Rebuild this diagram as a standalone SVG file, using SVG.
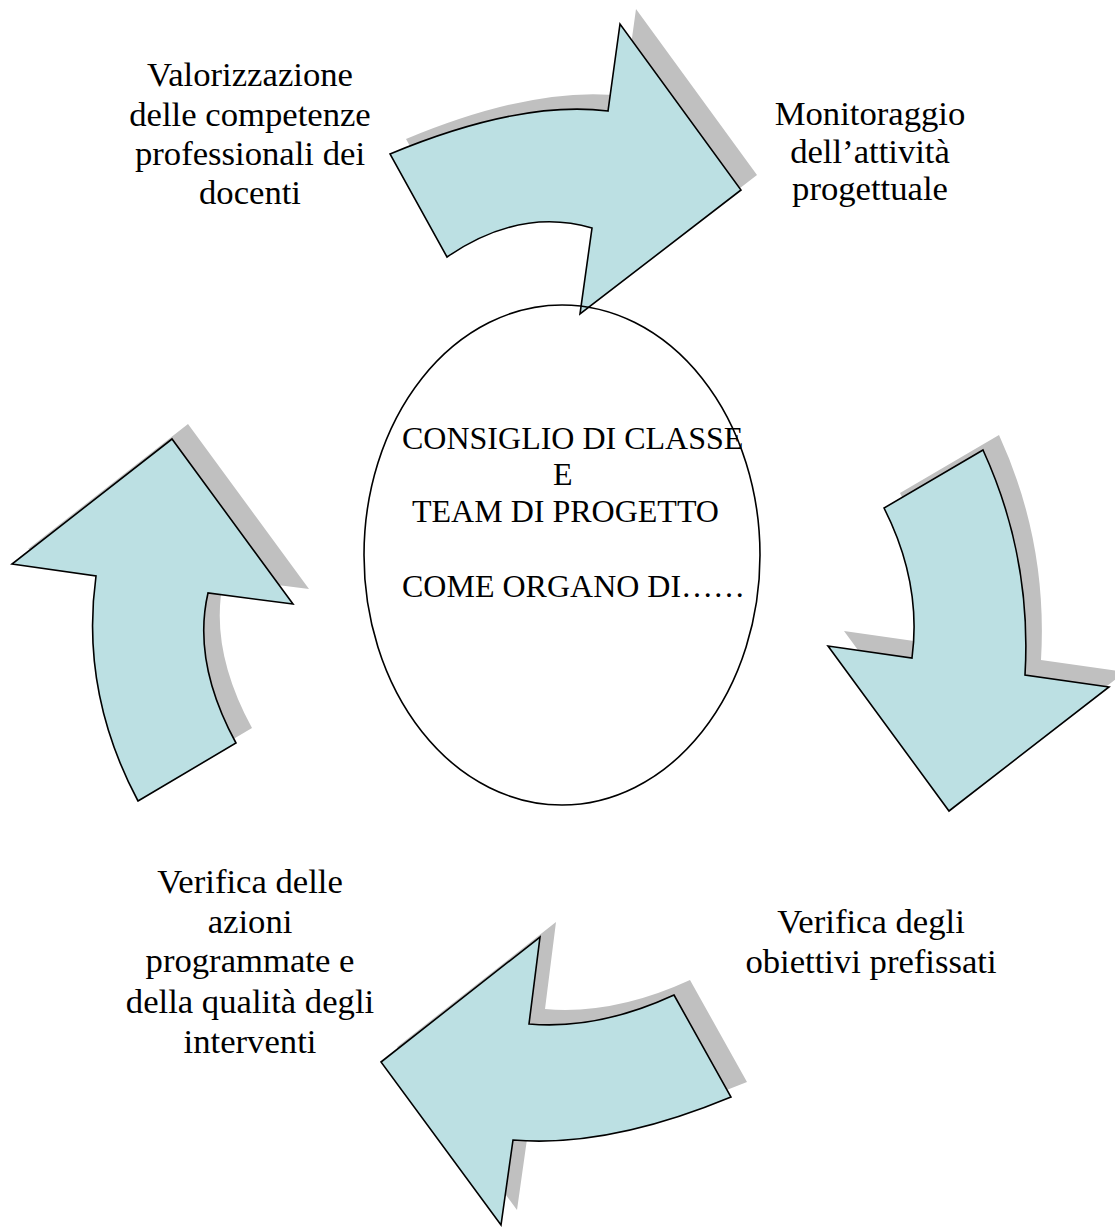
<svg xmlns="http://www.w3.org/2000/svg" xmlns:xlink="http://www.w3.org/1999/xlink" width="1115" height="1227" viewBox="0 0 1115 1227">
<style>
.arrow{fill:#bce0e3;stroke:#000;stroke-width:1.6;stroke-linejoin:miter}
.shadow{fill:#c0c0c0;stroke:none}
.lbl{font-family:"Liberation Serif","Times New Roman",serif;font-size:34.67px;fill:#000;text-anchor:middle}
.ctr{font-family:"Liberation Serif","Times New Roman",serif;font-size:32px;fill:#000}
</style>
<defs>
<path id="pTop" d="M390,154 Q520,100 608,111 L620,24 L741,190 L580,314 L592,228 Q520,207 447,257 Z"/>
<path id="pRight" d="M983,450 L884,508 Q922,583 912,658 L828,646 L949,811 L1109,687 L1025,675 Q1032,557 983,450 Z"/>
<path id="pBottom" d="M674,995 L731,1097 Q608,1148 513,1140 L501,1225 L381,1062 L540,937 L529,1024 Q598,1030 674,995 Z"/>
<path id="pLeft" d="M138,801 L236,743 Q192,662 208,593 L293,604 L172,439 L12,564 L96,576 Q80,692 138,801 Z"/>
</defs>
<rect width="1115" height="1227" fill="#fff"/>
<g id="connectors">
<g id="arrow-top">
<use xlink:href="#pTop" class="shadow" transform="translate(16,-15)"/>
<use xlink:href="#pTop" class="arrow"/>
</g>
<g id="arrow-right">
<use xlink:href="#pRight" class="shadow" transform="translate(16,-15)"/>
<use xlink:href="#pRight" class="arrow"/>
</g>
<g id="arrow-bottom">
<use xlink:href="#pBottom" class="shadow" transform="translate(16,-15)"/>
<use xlink:href="#pBottom" class="arrow"/>
</g>
<g id="arrow-left">
<use xlink:href="#pLeft" class="shadow" transform="translate(16,-15)"/>
<use xlink:href="#pLeft" class="arrow"/>
</g>
</g>
<g id="center">
<ellipse cx="562" cy="555" rx="198" ry="250" fill="none" stroke="#000" stroke-width="1.6"/>
<text class="ctr" x="402" y="449">CONSIGLIO DI CLASSE</text>
<text class="ctr" x="553" y="485">E</text>
<text class="ctr" x="412" y="522">TEAM DI PROGETTO</text>
<text class="ctr" x="402" y="597">COME ORGANO DI……</text>
</g>
<g id="label-valorizzazione">
<text class="lbl" x="250" y="86">Valorizzazione</text>
<text class="lbl" x="250" y="126">delle competenze</text>
<text class="lbl" x="250" y="165">professionali dei</text>
<text class="lbl" x="250" y="204">docenti</text>
</g>
<g id="label-monitoraggio">
<text class="lbl" x="870" y="125">Monitoraggio</text>
<text class="lbl" x="870" y="163">dell’attività</text>
<text class="lbl" x="870" y="200">progettuale</text>
</g>
<g id="label-obiettivi">
<text class="lbl" x="871" y="933">Verifica degli</text>
<text class="lbl" x="871" y="973">obiettivi prefissati</text>
</g>
<g id="label-azioni">
<text class="lbl" x="250" y="893">Verifica delle</text>
<text class="lbl" x="250" y="933">azioni</text>
<text class="lbl" x="250" y="972">programmate e</text>
<text class="lbl" x="250" y="1013">della qualità degli</text>
<text class="lbl" x="250" y="1053">interventi</text>
</g>
</svg>
